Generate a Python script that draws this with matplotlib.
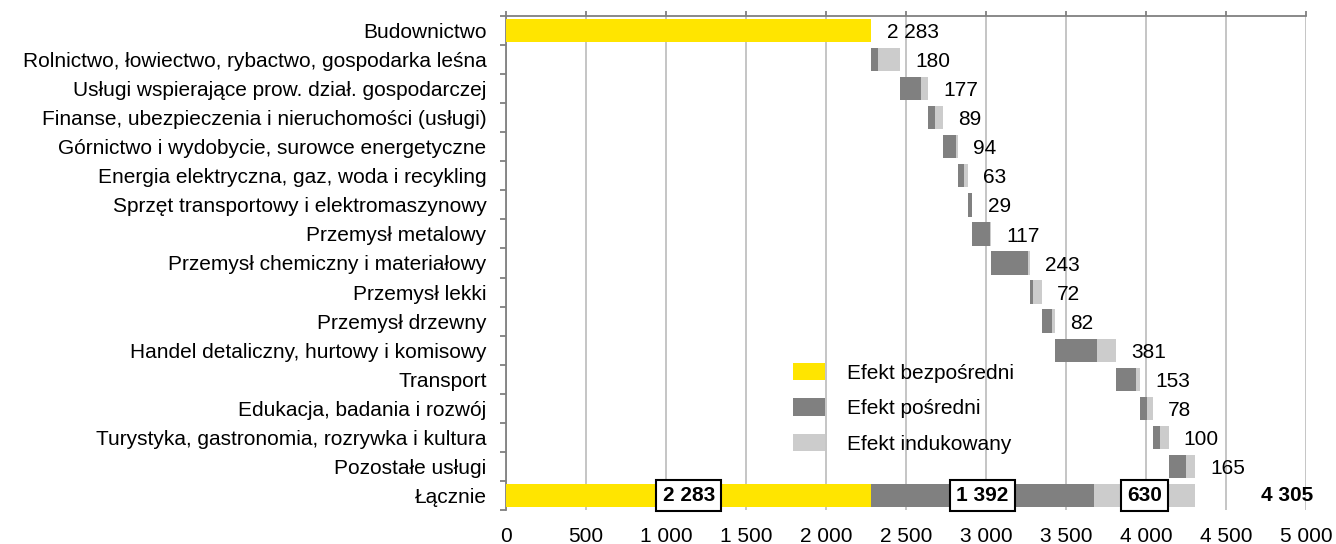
import numpy as np
import matplotlib
matplotlib.use("Agg")
import matplotlib.pyplot as plt
from matplotlib.patches import Patch
from matplotlib.ticker import FuncFormatter, MultipleLocator

plt.rcParams["font.family"] = ["Liberation Sans", "DejaVu Sans"]

# Sectors of the economy (top to bottom)
sectors = [
    "Budownictwo",
    "Rolnictwo, łowiectwo, rybactwo, gospodarka leśna",
    "Usługi wspierające prow. dział. gospodarczej",
    "Finanse, ubezpieczenia i nieruchomości (usługi)",
    "Górnictwo i wydobycie, surowce energetyczne",
    "Energia elektryczna, gaz, woda i recykling",
    "Sprzęt transportowy i elektromaszynowy",
    "Przemysł metalowy",
    "Przemysł chemiczny i materiałowy",
    "Przemysł lekki",
    "Przemysł drzewny",
    "Handel detaliczny, hurtowy i komisowy",
    "Transport",
    "Edukacja, badania i rozwój",
    "Turystyka, gastronomia, rozrywka i kultura",
    "Pozostałe usługi",
]
total_label = "Łącznie"

# Direct effect (construction only)
direct_total = 2283

# Indirect and induced effects per sector (sectors after construction)
indirect = [45, 132, 44, 83, 42, 26, 110, 228, 20, 68, 265, 128, 45, 45, 111]
induced = [135, 45, 45, 11, 21, 3, 7, 15, 52, 14, 116, 25, 33, 55, 54]
sector_totals = [180, 177, 89, 94, 63, 29, 117, 243, 72, 82, 381, 153, 78, 100, 165]

# Summary row
sum_direct = 2283
sum_indirect = 1392
sum_induced = 630
grand_total = 4305

legend_labels = ["Efekt bezpośredni", "Efekt pośredni", "Efekt indukowany"]

YELLOW = "#FFE500"
DARK = "#808080"
LIGHT = "#CCCCCC"
GRID = "#C0C0C0"
AXIS = "#808080"


def fmt(v, pos=None):
    return f"{v:,.0f}".replace(",", " ")


fig = plt.figure(figsize=(13.36, 5.44), dpi=100)
ax = fig.add_axes([506 / 1336, 1 - 510 / 544, 800 / 1336, 494 / 544])

labels = sectors + [total_label]
n = len(labels)
y = np.arange(n)
h = 0.8
fs = 15

# Construction: direct effect bar
ax.barh(y[0], direct_total, height=h, color=YELLOW, zorder=3)
ax.annotate(fmt(direct_total), (direct_total, y[0]), xytext=(11, -1.5),
            textcoords="offset points", ha="left", va="center", fontsize=fs)

# Waterfall of indirect + induced effects for the remaining sectors
ind = np.array(indirect)
inu = np.array(induced)
tot = np.array(sector_totals)
starts = direct_total + np.concatenate([[0], np.cumsum(ind + inu)[:-1]])
yy = y[1:n - 1]
ax.barh(yy, ind, left=starts, height=h, color=DARK, zorder=3)
ax.barh(yy, inu, left=starts + ind, height=h, color=LIGHT, zorder=3)
for yi, s, t, a, b in zip(yy, starts, tot, ind, inu):
    ax.annotate(fmt(t), (s + a + b, yi), xytext=(11, -1.5),
                textcoords="offset points", ha="left", va="center", fontsize=fs)

# Summary row
yl = y[-1]
ax.barh(yl, sum_direct, height=h, color=YELLOW, zorder=3)
ax.barh(yl, sum_indirect, left=sum_direct, height=h, color=DARK, zorder=3)
ax.barh(yl, sum_induced, left=sum_direct + sum_indirect, height=h,
        color=LIGHT, zorder=3)
box = dict(boxstyle="square,pad=0.3", facecolor="white", edgecolor="black",
           linewidth=1.5)
for left, width in [(0, sum_direct), (sum_direct, sum_indirect),
                    (sum_direct + sum_indirect, sum_induced)]:
    ax.text(left + width / 2, yl, fmt(width), ha="center", va="center",
            fontsize=fs, fontweight="bold", bbox=box, zorder=5)
ax.annotate(fmt(grand_total), (sum_direct + sum_indirect + sum_induced, yl),
            xytext=(48, 0), textcoords="offset points", ha="left",
            va="center", fontsize=fs, fontweight="bold")

# Axes styling
ax.set_xlim(0, 5000)
ax.set_ylim(n - 0.5, -0.5)
ax.xaxis.set_major_locator(MultipleLocator(500))
ax.xaxis.set_major_formatter(FuncFormatter(fmt))
ax.grid(axis="x", color=GRID, linewidth=1.3, zorder=0)
ax.set_axisbelow(True)

for side in ["right", "bottom"]:
    ax.spines[side].set_visible(False)
for side in ["top", "left"]:
    ax.spines[side].set_color(AXIS)
    ax.spines[side].set_linewidth(1.3)

ax.tick_params(axis="x", top=True, bottom=False, labeltop=False,
               labelbottom=True, direction="out", length=3.5, width=1.3,
               color=AXIS, pad=9, labelsize=fs)

ax.set_yticks(y)
ax.set_yticklabels(labels, fontsize=fs)
ax.set_yticks(np.arange(n + 1) - 0.5, minor=True)
ax.tick_params(axis="y", which="major", length=0, pad=14)
ax.tick_params(axis="y", which="minor", length=4, width=1.3, color=AXIS,
               direction="out")

handles = [Patch(facecolor=c, edgecolor="none") for c in (YELLOW, DARK, LIGHT)]
ax.legend(handles, legend_labels, loc="upper left",
          bbox_to_anchor=(793 / 1336, 1 - 363 / 544),
          bbox_transform=fig.transFigure, frameon=False, fontsize=fs,
          handlelength=1.55, handleheight=0.9, handletextpad=1.05,
          labelspacing=0.75, borderpad=0, borderaxespad=0)

fig.savefig("out.png", dpi=100)
